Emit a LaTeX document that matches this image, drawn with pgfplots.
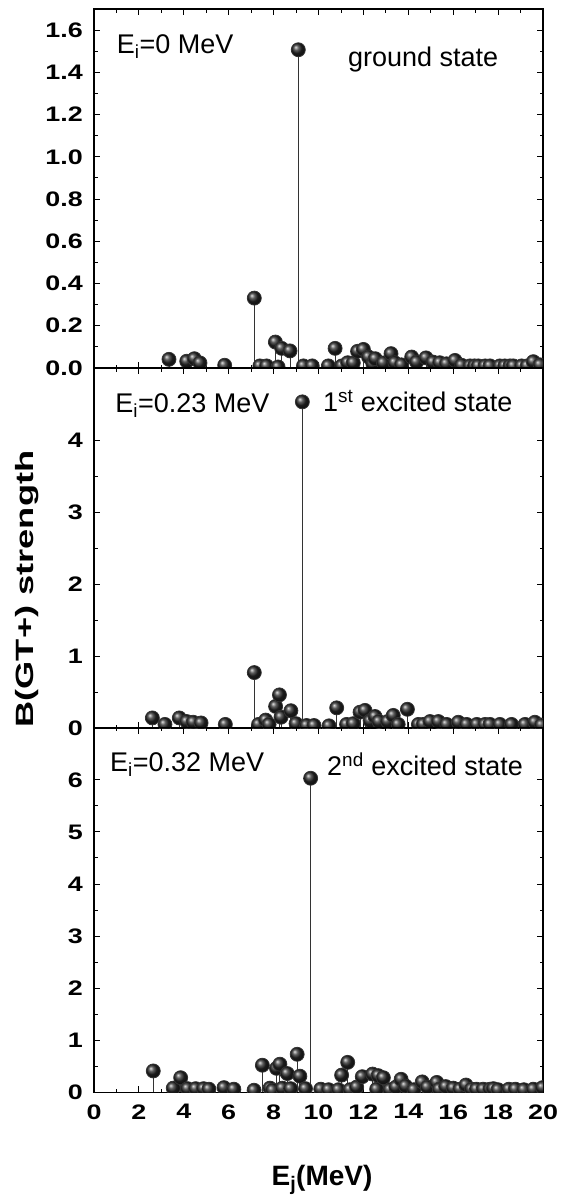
\documentclass[border=0pt]{standalone}
\usepackage{fontspec}
\setmainfont{Liberation Sans}
\newfontfamily\tickfont{Liberation Sans}[FakeStretch=1.28]
\newfontfamily\labfont{Liberation Sans}[FakeStretch=1.45]
\usepackage{pgfplots}
\pgfplotsset{compat=1.18}

\pgfplotsset{
  panel/.style={
    scale only axis, width=449pt,
    xmin=0, xmax=20, ymin=0,
    xtick={0,2,...,20}, minor x tick num=1, minor y tick num=1,
    tick align=inside,
    major tick length=6pt, minor tick length=3.5pt,
    every tick/.style={black, line width=0.9pt},
    axis line style={line width=1.2pt},
    /pgf/number format/assume math mode=true,
    ticklabel style={font=\fontsize{21}{22}\tickfont\bfseries},
    yticklabel style={inner sep=0pt, xshift=-11pt},
    xticklabel style={inner sep=0pt, yshift=-12pt},
    clip marker paths=true,
  },
  stem/.style={ycomb, draw=black!80, line width=0.8pt,
    mark=ball, mark size=7pt, mark options={ball color=black!85, draw=none}},
}
\tikzset{note/.style={anchor=base west, inner sep=0pt, font=\fontsize{27}{30}\selectfont}}

\begin{document}
\begin{tikzpicture}
\useasboundingbox (0,0) rectangle (560pt,-1195pt);

% ground state
\begin{axis}[panel, at={(94pt,-9pt)}, anchor=north west, height=359pt,
  ymax=1.7, ytick={0,0.2,...,1.6}, xticklabels={},
  yticklabel style={/pgf/number format/fixed, /pgf/number format/fixed zerofill, /pgf/number format/precision=1}]
\addplot[stem] coordinates {
(3.34,0.041) (4.13,0.032) (4.47,0.044) (4.72,0.024) (5.82,0.013) (7.14,0.331) (7.39,0.01) (7.69,0.01)
(8.08,0.123) (8.20,0.005) (8.36,0.093) (8.73,0.081) (9.10,1.507) (9.33,0.01) (9.72,0.01) (10.44,0.01)
(10.74,0.093) (11.04,0.01) (11.30,0.025) (11.55,0.024) (11.74,0.079) (12.00,0.088) (12.23,0.052) (12.42,0.02)
(12.53,0.044) (12.89,0.024) (13.23,0.068) (13.40,0.025) (13.70,0.015) (14.15,0.052) (14.37,0.028) (14.79,0.048)
(15.10,0.028) (15.40,0.025) (15.70,0.02) (16.08,0.036) (16.38,0.013) (16.75,0.01) (16.95,0.01) (17.12,0.01)
(17.42,0.01) (17.64,0.01) (18.08,0.01) (18.30,0.01) (18.53,0.01) (18.68,0.01) (19.05,0.01) (19.30,0.01)
(19.57,0.03) (19.87,0.015)
};
\node[note] at (axis cs:1.01,1.49) {E\textsubscript{i}=0 MeV};
\node[note] at (axis cs:11.31,1.428) {ground state};
\end{axis}

% 1st excited state
\begin{axis}[panel, at={(94pt,-368pt)}, anchor=north west, height=360pt,
  ymax=5, ytick={0,1,...,4}, xticklabels={}]
\addplot[stem] coordinates {
(2.60,0.14) (3.16,0.05) (3.80,0.14) (4.13,0.09) (4.42,0.08) (4.77,0.07) (5.85,0.05) (7.14,0.77)
(7.33,0.05) (7.65,0.11) (7.80,0.05) (8.09,0.30) (8.26,0.46) (8.33,0.15) (8.77,0.24) (9.00,0.06)
(9.28,4.53) (9.47,0.035) (9.80,0.035) (10.47,0.03) (10.81,0.28) (11.25,0.05) (11.55,0.06) (11.85,0.22)
(12.07,0.245) (12.30,0.10) (12.52,0.16) (12.69,0.09) (13.08,0.09) (13.33,0.175) (13.55,0.05) (13.96,0.26)
(14.45,0.05) (14.67,0.05) (14.97,0.09) (15.34,0.09) (15.71,0.05) (16.23,0.08) (16.60,0.05) (17.05,0.05)
(17.42,0.05) (17.64,0.05) (18.08,0.05) (18.60,0.05) (19.20,0.05) (19.64,0.08) (19.94,0.04)
};
\node[note] at (axis cs:0.94,4.38) {E\textsubscript{i}=0.23 MeV};
\node[note] at (axis cs:10.2,4.40) {1\textsuperscript{st} excited state};
\end{axis}

% 2nd excited state
\begin{axis}[panel, at={(94pt,-727.7pt)}, anchor=north west, height=364.6pt,
  ymax=7, ytick={0,1,...,6}]
\addplot[stem] coordinates {
(2.64,0.41) (3.53,0.08) (3.86,0.28) (4.17,0.07) (4.53,0.07) (4.88,0.07) (5.12,0.06) (5.79,0.09)
(6.23,0.06) (7.13,0.04) (7.50,0.52) (7.84,0.08) (7.96,0.04) (8.13,0.46) (8.28,0.54) (8.39,0.08)
(8.61,0.36) (8.76,0.07) (9.05,0.73) (9.17,0.31) (9.42,0.07) (9.65,6.03) (10.10,0.06) (10.45,0.05)
(10.89,0.05) (11.03,0.33) (11.30,0.575) (11.40,0.05) (11.70,0.10) (11.95,0.30) (12.41,0.35) (12.59,0.06)
(12.66,0.32) (12.89,0.28) (13.18,0.05) (13.45,0.10) (13.68,0.25) (13.88,0.12) (14.25,0.05) (14.62,0.20)
(14.85,0.10) (15.27,0.19) (15.38,0.06) (15.67,0.11) (16.00,0.08) (16.30,0.06) (16.57,0.14) (16.82,0.06)
(17.04,0.06) (17.34,0.06) (17.64,0.06) (17.79,0.07) (18.00,0.05) (18.48,0.06) (18.77,0.06) (19.15,0.05)
(19.57,0.06) (19.98,0.09)
};
\node[note] at (axis cs:0.71,6.16) {E\textsubscript{i}=0.32 MeV};
\node[note] at (axis cs:10.38,6.08) {2\textsuperscript{nd} excited state};
\end{axis}

\node[rotate=90, font=\fontsize{25}{26}\labfont\bfseries] at (27pt,-589pt) {B(GT+) strength};
\node[anchor=base, font=\fontsize{28}{30}\bfseries] at (322pt,-1185pt) {E\textsubscript{j}(MeV)};
\end{tikzpicture}
\end{document}
